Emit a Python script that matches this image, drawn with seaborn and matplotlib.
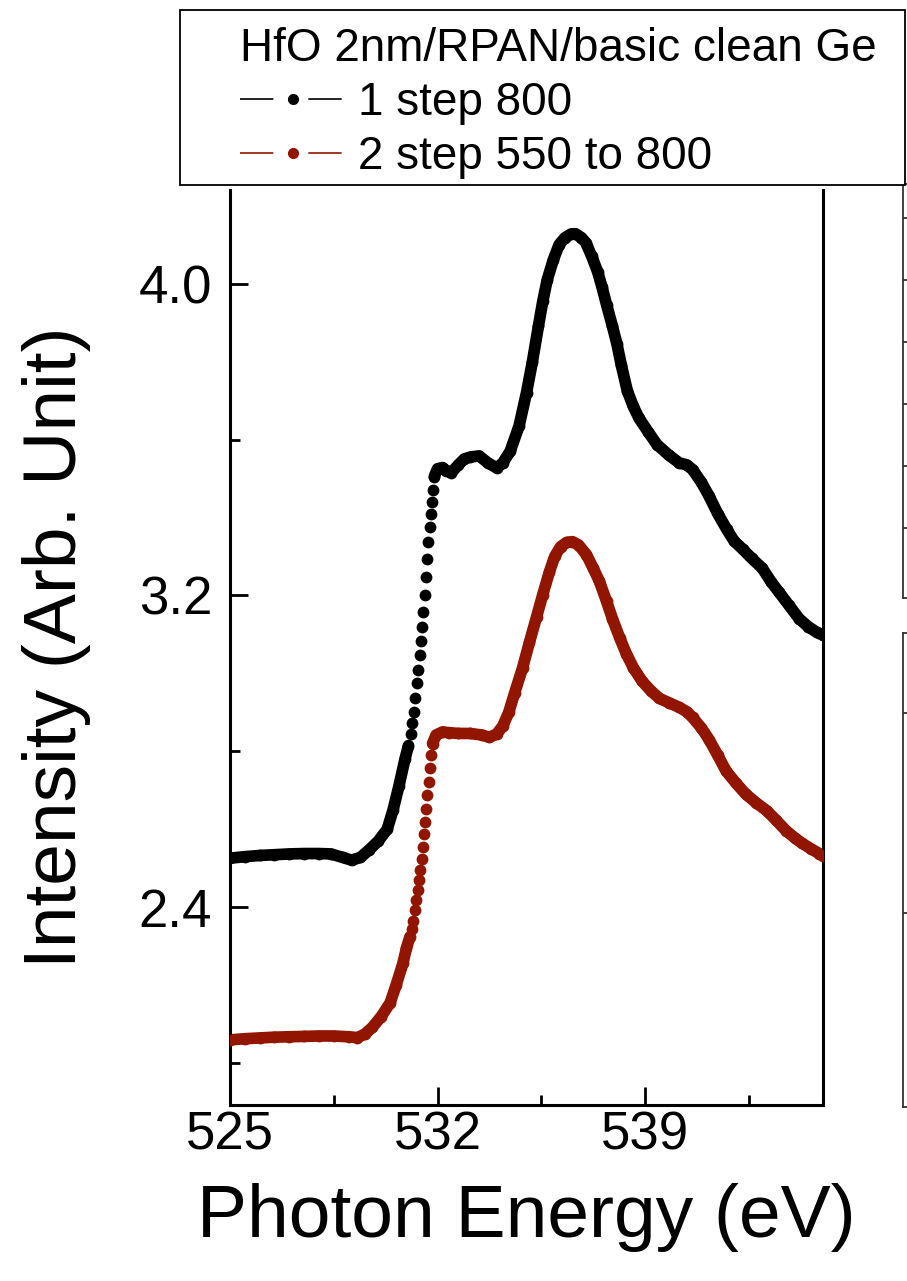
import numpy as np
import pandas as pd
import matplotlib
matplotlib.use("Agg")
import matplotlib.pyplot as plt
import seaborn as sns
from matplotlib.lines import Line2D
from matplotlib.patches import Rectangle

# ---------------- data ----------------
energy_black = [525.0, 525.5, 526.0, 526.5, 527.0, 527.5, 528.0, 528.4, 528.8, 529.1,
                529.4, 529.7, 530.0, 530.3, 530.5, 530.7, 530.9, 531.02,
                531.10, 531.15, 531.20, 531.25, 531.30, 531.35, 531.40, 531.44,
                531.48, 531.52, 531.56, 531.60, 531.65, 531.69, 531.73, 531.77,
                531.81, 531.85, 531.89,
                532.0, 532.17, 532.3, 532.47, 532.7, 532.9, 533.1, 533.4, 533.7,
                534.0, 534.2, 534.45, 534.75, 535.0, 535.2, 535.4, 535.55, 535.7,
                535.9, 536.1, 536.3, 536.5, 536.65, 536.85, 537.0, 537.2, 537.4,
                537.55, 537.7, 537.9, 538.05, 538.2, 538.4, 538.6, 538.8, 539.1,
                539.4, 539.8, 540.15, 540.4, 540.6, 540.9, 541.15, 541.45, 541.75,
                542.0, 542.3, 542.6, 542.95, 543.25, 543.5, 543.85, 544.2, 544.5,
                544.8, 545.0]
intensity_black = [2.526, 2.530, 2.533, 2.535, 2.537, 2.538, 2.538, 2.537, 2.528, 2.521,
                   2.528, 2.548, 2.570, 2.600, 2.650, 2.712, 2.780, 2.815,
                   2.845, 2.872, 2.900, 2.938, 2.975, 3.009, 3.046, 3.083,
                   3.118, 3.157, 3.200, 3.247, 3.294, 3.336, 3.375, 3.409,
                   3.440, 3.470, 3.505,
                   3.525, 3.528, 3.520, 3.515, 3.535, 3.550, 3.555, 3.558, 3.540,
                   3.527, 3.540, 3.570, 3.635, 3.720, 3.800, 3.890, 3.955, 4.010,
                   4.060, 4.100, 4.118, 4.127, 4.128, 4.118, 4.105, 4.070, 4.030,
                   3.990, 3.946, 3.890, 3.845, 3.790, 3.725, 3.685, 3.654, 3.620,
                   3.587, 3.560, 3.540, 3.535, 3.523, 3.490, 3.456, 3.410, 3.370,
                   3.340, 3.318, 3.295, 3.270, 3.235, 3.210, 3.175, 3.140, 3.120,
                   3.105, 3.098]

energy_red = [525.0, 525.5, 526.0, 526.5, 527.0, 527.5, 528.0, 528.5, 529.0, 529.3,
              529.55, 529.8, 530.1, 530.4, 530.6, 530.83, 530.95, 531.07,
              531.15, 531.18, 531.23, 531.28, 531.33, 531.37, 531.41, 531.46,
              531.50, 531.54, 531.58, 531.62, 531.66, 531.70, 531.74, 531.78, 531.83,
              531.95, 532.17, 532.4, 532.7, 533.1, 533.5, 533.75, 534.0, 534.2,
              534.4, 534.6, 534.87, 535.1, 535.34, 535.54, 535.77, 535.95, 536.15,
              536.35, 536.55, 536.75, 537.02, 537.25, 537.46, 537.7, 537.9, 538.15,
              538.37, 538.6, 538.9, 539.2, 539.48, 539.8, 540.15, 540.4, 540.6,
              540.9, 541.16, 541.45, 541.73, 542.05, 542.4, 542.75, 543.1, 543.4,
              543.75, 544.05, 544.3, 544.6, 544.87, 545.0]
intensity_red = [2.060, 2.063, 2.065, 2.067, 2.068, 2.069, 2.070, 2.070, 2.068, 2.066,
                 2.075, 2.092, 2.120, 2.155, 2.200, 2.256, 2.295, 2.325,
                 2.345, 2.365, 2.392, 2.418, 2.444, 2.470, 2.497, 2.524,
                 2.554, 2.587, 2.620, 2.653, 2.687, 2.722, 2.757, 2.790, 2.820,
                 2.842, 2.850, 2.848, 2.846, 2.846, 2.842, 2.836, 2.845, 2.865,
                 2.900, 2.950, 3.015, 3.080, 3.145, 3.200, 3.260, 3.300, 3.325,
                 3.336, 3.338, 3.330, 3.305, 3.270, 3.236, 3.185, 3.140, 3.090,
                 3.050, 3.015, 2.980, 2.955, 2.936, 2.925, 2.913, 2.902, 2.887,
                 2.860, 2.830, 2.790, 2.750, 2.720, 2.690, 2.668, 2.648, 2.625,
                 2.597, 2.578, 2.564, 2.550, 2.538, 2.532]

series_labels = ["1 step 800", "2 step 550 to 800"]
legend_title = "HfO 2nm/RPAN/basic clean Ge"
x_major = [525, 532, 539]
x_minor = [528.5, 535.5, 542.5]
y_major = [2.4, 3.2, 4.0]
y_major_labels = ["2.4", "3.2", "4.0"]
y_minor = [2.0, 2.8, 3.6]

colors = ["#000000", "#921500"]
# rising-edge interval where the reference shows separated dots
edge_black = (531.05, 531.88)
edge_red = (531.10, 531.82)

# ---------------- style ----------------
sns.set_style("ticks")
plt.rcParams["font.family"] = ["Liberation Sans", "DejaVu Sans"]
plt.rcParams["text.color"] = "black"
plt.rcParams["axes.labelcolor"] = "black"
plt.rcParams["xtick.color"] = "black"
plt.rcParams["ytick.color"] = "black"

W, H = 907, 1281
fig = plt.figure(figsize=(W / 100, H / 100), dpi=100)
ax = fig.add_axes([230 / W, 176 / H, 593 / W, 915 / H])

df_b = pd.DataFrame({"E": energy_black, "I": intensity_black})
df_r = pd.DataFrame({"E": energy_red, "I": intensity_red})

LW = 8.4
MS = 72
for df, col, edge in [(df_b, colors[0], edge_black), (df_r, colors[1], edge_red)]:
    lo = df[df["E"] <= edge[0]]
    hi = df[df["E"] >= edge[1]]
    for part in (lo, hi):
        sns.lineplot(data=part, x="E", y="I", ax=ax, color=col, lw=LW,
                     estimator=None, sort=True, legend=False,
                     solid_capstyle="round", solid_joinstyle="round")
    sns.scatterplot(data=df, x="E", y="I", ax=ax, color=col, s=MS,
                    linewidth=0, legend=False, zorder=3)

ax.set_xlim(525, 545)
ax.set_ylim(1.893, 4.24)
ax.set_xticks(x_major)
ax.set_xticklabels([str(v) for v in x_major])
ax.set_xticks(x_minor, minor=True)
ax.set_yticks(y_major)
ax.set_yticklabels(y_major_labels)
ax.set_yticks(y_minor, minor=True)

ax.tick_params(which="both", direction="in", width=2.0, colors="black",
               top=False, right=False)
ax.tick_params(which="major", length=13)
ax.tick_params(which="minor", length=7)
ax.tick_params(axis="x", which="major", labelsize=38, pad=4)
ax.tick_params(axis="y", which="major", labelsize=38, pad=13)

for side in ["left", "right", "bottom"]:
    ax.spines[side].set_visible(True)
    ax.spines[side].set_linewidth(2.2)
    ax.spines[side].set_color("black")
ax.spines["top"].set_visible(False)

ax.set_xlabel("Photon Energy (eV)", fontsize=54, labelpad=16, color="black")
ax.set_ylabel("Intensity (Arb. Unit)", fontsize=54, labelpad=34, color="black")

# neighbouring panels partially visible at the right edge
axA = fig.add_axes([903 / W, (H - 598) / H, 0.3, 414 / H])
axA.set_xlim(0, 1)
axA.set_ylim(0, 6.677)
axA.set_yticks([1.129 + k for k in range(6)])
axB = fig.add_axes([903 / W, (H - 1107) / H, 0.3, 474 / H])
axB.set_xlim(0, 1)
axB.set_ylim(0, 2.37)
axB.set_yticks([0.97, 1.97])
for a in (axA, axB):
    a.set_facecolor("none")
    a.set_xticks([])
    a.tick_params(axis="y", direction="in", length=5, width=1.2,
                  labelleft=False, color="#222222")
    for side in ["left", "top", "bottom"]:
        a.spines[side].set_linewidth(1.3)
        a.spines[side].set_color("#333333")
    a.spines["right"].set_visible(False)

# legend frame and legend
frame = Rectangle((180 / W, 1 - 185 / H), 725 / W, 175 / H,
                  transform=fig.transFigure, facecolor="white",
                  edgecolor="black", linewidth=1.3, zorder=4)
fig.patches.append(frame)

handles = [Line2D([], [], color=c, lw=1.2, marker="o", markersize=7,
                  linestyle=(0, (20, 21))) for c in colors]
leg = fig.legend(handles, series_labels, title=legend_title,
                 loc="upper left", bbox_to_anchor=(240 / W, 1 - 27 / H),
                 bbox_transform=fig.transFigure, frameon=False,
                 borderpad=0, borderaxespad=0, fontsize=33, title_fontsize=33,
                 handlelength=2.3, handletextpad=0.27, labelspacing=0.22,
                 alignment="left", numpoints=1)
leg.set_zorder(6)
for t in leg.get_texts():
    t.set_color("black")
leg.get_title().set_color("black")

fig.savefig("out.png", dpi=100)
